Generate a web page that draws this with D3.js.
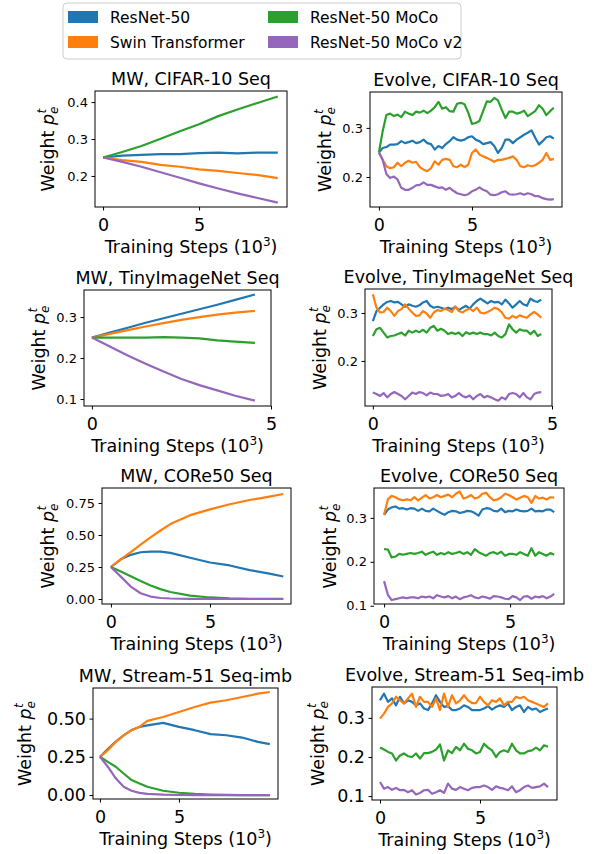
<!DOCTYPE html>
<html>
<head>
<meta charset="utf-8">
<script src="https://cdn.jsdelivr.net/npm/d3@7"></script>
<style>
body { margin: 0; background: #fff; }
svg { display: block; font-family: "DejaVu Sans", sans-serif; }
</style>
</head>
<body>
<svg id="canvas" width="604" height="854"></svg>
<script>
let seriesNames = ['ResNet-50', 'Swin Transformer', 'ResNet-50 MoCo', 'ResNet-50 MoCo v2']
let colors = ['#1f77b4', '#ff7f0e', '#2ca02c', '#9467bd']

// MW, CIFAR-10 Seq
let mwCifarX = [0, 1, 2, 3, 4, 5, 6, 7, 8, 9.1]
let mwCifarBlue = [0.25, 0.255, 0.257, 0.259, 0.259, 0.262, 0.263, 0.261, 0.263, 0.263]
let mwCifarOrange = [0.25, 0.243, 0.238, 0.230, 0.225, 0.218, 0.214, 0.208, 0.203, 0.194]
let mwCifarGreen = [0.25, 0.265, 0.281, 0.301, 0.321, 0.340, 0.362, 0.380, 0.397, 0.415]
let mwCifarPurple = [0.25, 0.238, 0.225, 0.210, 0.195, 0.180, 0.166, 0.153, 0.141, 0.128]

// Evolve, CIFAR-10 Seq (one value every 0.2k steps)
let evCifarStep = 0.2
let evCifarBlue = [0.25, 0.259, 0.261, 0.266, 0.266, 0.267, 0.273, 0.269, 0.271, 0.274,
  0.269, 0.271, 0.276, 0.269, 0.267, 0.256, 0.263, 0.259, 0.267, 0.273,
  0.281, 0.276, 0.274, 0.276, 0.281, 0.283, 0.276, 0.273, 0.267, 0.269,
  0.271, 0.263, 0.249, 0.259, 0.276, 0.276, 0.269, 0.276, 0.281, 0.286,
  0.290, 0.295, 0.280, 0.266, 0.273, 0.281, 0.283, 0.278]
let evCifarOrange = [0.25, 0.235, 0.222, 0.218, 0.220, 0.229, 0.222, 0.229, 0.233, 0.229,
  0.231, 0.220, 0.215, 0.212, 0.218, 0.232, 0.225, 0.235, 0.237, 0.235,
  0.222, 0.220, 0.225, 0.220, 0.225, 0.249, 0.256, 0.246, 0.242, 0.239,
  0.235, 0.231, 0.235, 0.235, 0.237, 0.239, 0.242, 0.235, 0.222, 0.220,
  0.224, 0.222, 0.224, 0.229, 0.235, 0.249, 0.235, 0.237]
let evCifarGreen = [0.25, 0.293, 0.326, 0.329, 0.324, 0.327, 0.322, 0.333, 0.329, 0.326,
  0.333, 0.331, 0.335, 0.330, 0.335, 0.342, 0.353, 0.339, 0.342, 0.334,
  0.333, 0.349, 0.351, 0.348, 0.331, 0.308, 0.310, 0.314, 0.334, 0.354,
  0.353, 0.361, 0.356, 0.337, 0.320, 0.333, 0.333, 0.329, 0.331, 0.335,
  0.324, 0.329, 0.334, 0.346, 0.339, 0.326, 0.334, 0.341]
let evCifarPurple = [0.25, 0.235, 0.206, 0.198, 0.201, 0.195, 0.178, 0.174, 0.174, 0.178,
  0.183, 0.184, 0.189, 0.184, 0.184, 0.181, 0.178, 0.179, 0.174, 0.178,
  0.172, 0.167, 0.165, 0.163, 0.165, 0.171, 0.174, 0.179, 0.174, 0.171,
  0.164, 0.163, 0.165, 0.169, 0.171, 0.165, 0.164, 0.165, 0.167, 0.164,
  0.167, 0.165, 0.161, 0.161, 0.157, 0.155, 0.154, 0.155]

// MW, TinyImageNet Seq
let mwTinyX = [0, 0.5, 1, 1.5, 2, 2.5, 3, 3.5, 4, 4.55]
let mwTinyBlue = [0.25, 0.262, 0.274, 0.286, 0.297, 0.308, 0.319, 0.330, 0.342, 0.355]
let mwTinyOrange = [0.25, 0.259, 0.268, 0.277, 0.285, 0.293, 0.300, 0.306, 0.311, 0.315]
let mwTinyGreen = [0.25, 0.250, 0.250, 0.250, 0.251, 0.250, 0.248, 0.243, 0.240, 0.237]
let mwTinyPurple = [0.25, 0.228, 0.206, 0.186, 0.167, 0.149, 0.134, 0.121, 0.108, 0.096]

// Evolve, TinyImageNet Seq (every 0.1k steps)
let evTinyStep = 0.1
let evTinyBlue = [0.283, 0.304, 0.311, 0.318, 0.323, 0.325, 0.322, 0.323, 0.318, 0.313,
  0.318, 0.315, 0.313, 0.316, 0.322, 0.325, 0.315, 0.311, 0.313, 0.311,
  0.308, 0.311, 0.308, 0.313, 0.306, 0.311, 0.315, 0.309, 0.318, 0.325,
  0.330, 0.325, 0.320, 0.325, 0.322, 0.323, 0.318, 0.328, 0.320, 0.311,
  0.318, 0.325, 0.318, 0.315, 0.330, 0.325, 0.323, 0.328]
let evTinyOrange = [0.339, 0.311, 0.301, 0.302, 0.311, 0.304, 0.294, 0.304, 0.308, 0.318,
  0.309, 0.301, 0.294, 0.295, 0.304, 0.299, 0.290, 0.301, 0.306, 0.304,
  0.309, 0.306, 0.302, 0.313, 0.304, 0.301, 0.306, 0.309, 0.304, 0.311,
  0.301, 0.299, 0.302, 0.306, 0.311, 0.308, 0.301, 0.290, 0.288, 0.294,
  0.290, 0.295, 0.292, 0.290, 0.297, 0.302, 0.297, 0.290]
let evTinyGreen = [0.252, 0.266, 0.269, 0.259, 0.249, 0.252, 0.253, 0.256, 0.259, 0.253,
  0.263, 0.259, 0.263, 0.260, 0.265, 0.259, 0.269, 0.273, 0.263, 0.267,
  0.263, 0.256, 0.259, 0.256, 0.259, 0.252, 0.260, 0.256, 0.259, 0.256,
  0.259, 0.256, 0.256, 0.253, 0.259, 0.252, 0.249, 0.256, 0.276, 0.266,
  0.259, 0.266, 0.263, 0.263, 0.256, 0.263, 0.252, 0.256]
let evTinyPurple = [0.134, 0.131, 0.127, 0.133, 0.124, 0.131, 0.135, 0.131, 0.127, 0.120,
  0.127, 0.134, 0.131, 0.135, 0.133, 0.128, 0.134, 0.131, 0.131, 0.127,
  0.128, 0.131, 0.124, 0.127, 0.133, 0.127, 0.124, 0.128, 0.120, 0.127,
  0.131, 0.124, 0.127, 0.124, 0.120, 0.117, 0.124, 0.120, 0.131, 0.133,
  0.131, 0.124, 0.133, 0.124, 0.120, 0.131, 0.134, 0.135]

// MW, CORe50 Seq
let mwCoreX = [0, 0.5, 1, 1.5, 2, 2.5, 3, 4, 5, 6, 7, 8, 8.7]
let mwCoreBlue = [0.25, 0.31, 0.345, 0.365, 0.37, 0.37, 0.36, 0.322, 0.285, 0.262, 0.226, 0.198, 0.176]
let mwCoreOrange = [0.25, 0.31, 0.366, 0.425, 0.482, 0.535, 0.585, 0.655, 0.70, 0.74, 0.773, 0.80, 0.82]
let mwCoreGreen = [0.25, 0.215, 0.178, 0.14, 0.105, 0.077, 0.055, 0.027, 0.012, 0.005, 0.002, 0.001, 0.001]
let mwCorePurple = [0.25, 0.175, 0.097, 0.045, 0.019, 0.008, 0.004, 0.001, 0, 0, 0, 0, 0]

// Evolve, CORe50 Seq (every 0.15k steps)
let evCoreStep = 0.15
let evCoreBlue = [0.307, 0.319, 0.324, 0.326, 0.321, 0.322, 0.319, 0.322, 0.321, 0.316,
  0.321, 0.316, 0.315, 0.321, 0.316, 0.311, 0.307, 0.313, 0.316, 0.315,
  0.311, 0.313, 0.316, 0.315, 0.311, 0.305, 0.319, 0.322, 0.321, 0.316,
  0.315, 0.321, 0.313, 0.316, 0.315, 0.319, 0.316, 0.315, 0.316, 0.321,
  0.315, 0.316, 0.315, 0.319, 0.319, 0.313]
let evCoreOrange = [0.307, 0.342, 0.350, 0.347, 0.342, 0.340, 0.342, 0.340, 0.347, 0.340,
  0.346, 0.352, 0.344, 0.347, 0.352, 0.347, 0.350, 0.353, 0.347, 0.355,
  0.360, 0.344, 0.347, 0.352, 0.344, 0.347, 0.355, 0.357, 0.347, 0.340,
  0.342, 0.347, 0.355, 0.352, 0.347, 0.342, 0.346, 0.350, 0.347, 0.334,
  0.350, 0.344, 0.346, 0.342, 0.347, 0.346]
let evCoreGreen = [0.229, 0.228, 0.210, 0.212, 0.218, 0.216, 0.218, 0.220, 0.218, 0.220,
  0.223, 0.216, 0.220, 0.223, 0.216, 0.220, 0.217, 0.222, 0.218, 0.220,
  0.223, 0.218, 0.222, 0.216, 0.229, 0.222, 0.218, 0.214, 0.220, 0.222,
  0.218, 0.223, 0.214, 0.218, 0.218, 0.216, 0.222, 0.218, 0.214, 0.231,
  0.214, 0.222, 0.218, 0.214, 0.220, 0.216]
let evCorePurple = [0.156, 0.125, 0.113, 0.115, 0.117, 0.119, 0.117, 0.119, 0.119, 0.117,
  0.121, 0.119, 0.121, 0.117, 0.124, 0.121, 0.119, 0.122, 0.117, 0.121,
  0.115, 0.119, 0.121, 0.124, 0.119, 0.117, 0.121, 0.119, 0.116, 0.122,
  0.121, 0.119, 0.116, 0.115, 0.122, 0.119, 0.113, 0.121, 0.122, 0.116,
  0.121, 0.119, 0.122, 0.117, 0.121, 0.127]

// MW, Stream-51 Seq-imb
let mwStreamX = [0, 0.5, 1, 1.5, 2, 2.5, 3, 4, 5, 6, 7, 8, 9, 10, 10.75]
let mwStreamBlue = [0.25, 0.30, 0.35, 0.39, 0.425, 0.445, 0.456, 0.472, 0.446, 0.424, 0.398, 0.391, 0.376, 0.348, 0.333]
let mwStreamOrange = [0.25, 0.293, 0.348, 0.39, 0.424, 0.446, 0.485, 0.51, 0.543, 0.576, 0.604, 0.62, 0.641, 0.663, 0.674]
let mwStreamGreen = [0.25, 0.217, 0.185, 0.141, 0.098, 0.076, 0.054, 0.028, 0.015, 0.007, 0.003, 0.001, 0, 0, 0]
let mwStreamPurple = [0.25, 0.185, 0.109, 0.054, 0.028, 0.014, 0.007, 0.002, 0, 0, 0, 0, 0, 0, 0]

// Evolve, Stream-51 Seq-imb (every 0.2k steps)
let evStreamStep = 0.2
let evStreamBlue = [0.345, 0.362, 0.341, 0.350, 0.332, 0.354, 0.337, 0.345, 0.341, 0.332,
  0.337, 0.324, 0.320, 0.337, 0.358, 0.341, 0.328, 0.330, 0.320, 0.320,
  0.324, 0.332, 0.328, 0.320, 0.320, 0.320, 0.324, 0.330, 0.321, 0.328,
  0.332, 0.328, 0.337, 0.320, 0.328, 0.332, 0.315, 0.328, 0.321, 0.324,
  0.315, 0.320, 0.324]
let evStreamOrange = [0.298, 0.311, 0.328, 0.337, 0.354, 0.345, 0.337, 0.350, 0.362, 0.328,
  0.354, 0.341, 0.341, 0.328, 0.350, 0.320, 0.362, 0.328, 0.358, 0.337,
  0.345, 0.358, 0.345, 0.338, 0.338, 0.354, 0.341, 0.332, 0.345, 0.341,
  0.350, 0.332, 0.341, 0.341, 0.354, 0.350, 0.354, 0.345, 0.341, 0.337,
  0.332, 0.328, 0.337]
let evStreamGreen = [0.224, 0.219, 0.213, 0.209, 0.191, 0.204, 0.209, 0.202, 0.200, 0.209,
  0.196, 0.210, 0.210, 0.213, 0.219, 0.232, 0.191, 0.217, 0.210, 0.226,
  0.217, 0.234, 0.221, 0.217, 0.209, 0.213, 0.234, 0.224, 0.217, 0.200,
  0.213, 0.217, 0.213, 0.234, 0.217, 0.209, 0.209, 0.215, 0.217, 0.224,
  0.217, 0.230, 0.226]
let evStreamPurple = [0.136, 0.119, 0.123, 0.116, 0.121, 0.115, 0.116, 0.110, 0.115, 0.104,
  0.108, 0.115, 0.116, 0.106, 0.110, 0.115, 0.108, 0.132, 0.119, 0.116,
  0.123, 0.119, 0.115, 0.121, 0.123, 0.123, 0.127, 0.123, 0.116, 0.125,
  0.121, 0.119, 0.115, 0.125, 0.110, 0.115, 0.123, 0.127, 0.121, 0.123,
  0.125, 0.132, 0.123]

let stepsOf = (values, step) => values.map((v, i) => +(i * step).toFixed(3))

let panels = [
  { title: 'MW, CIFAR-10 Seq', box: [95, 91, 287, 207], xDom: [-0.42, 9.58], yDom: [0.116, 0.43],
    yTicks: [0.2, 0.3, 0.4], yFmt: '.1f', yFont: 13, labelX: 48,
    x: mwCifarX, series: [mwCifarBlue, mwCifarOrange, mwCifarGreen, mwCifarPurple] },
  { title: 'Evolve, CIFAR-10 Seq', box: [370, 92, 562, 207], xDom: [-0.48, 9.84], yDom: [0.139, 0.373],
    yTicks: [0.2, 0.3], yFmt: '.1f', yFont: 13, labelX: 325,
    x: stepsOf(evCifarBlue, evCifarStep), series: [evCifarBlue, evCifarOrange, evCifarGreen, evCifarPurple] },
  { title: 'MW, TinyImageNet Seq', box: [84, 290, 271, 406], xDom: [-0.22, 5.0], yDom: [0.083, 0.366],
    yTicks: [0.1, 0.2, 0.3], yFmt: '.1f', yFont: 13, labelX: 39,
    x: mwTinyX, series: [mwTinyBlue, mwTinyOrange, mwTinyGreen, mwTinyPurple] },
  { title: 'Evolve, TinyImageNet Seq', box: [365, 289, 552, 406], xDom: [-0.22, 5.0], yDom: [0.106, 0.35],
    yTicks: [0.2, 0.3], yFmt: '.1f', yFont: 13, labelX: 320,
    x: stepsOf(evTinyBlue, evTinyStep), series: [evTinyBlue, evTinyOrange, evTinyGreen, evTinyPurple] },
  { title: 'MW, CORe50 Seq', box: [102, 488, 291, 604], xDom: [-0.45, 9.09], yDom: [-0.039, 0.867],
    yTicks: [0, 0.25, 0.5, 0.75], yFmt: '.2f', yFont: 13, labelX: 48,
    x: mwCoreX, series: [mwCoreBlue, mwCoreOrange, mwCoreGreen, mwCorePurple] },
  { title: 'Evolve, CORe50 Seq', box: [374, 488, 564, 604], xDom: [-0.40, 7.14], yDom: [0.104, 0.368],
    yTicks: [0.1, 0.2, 0.3], yFmt: '.1f', yFont: 13, labelX: 330,
    x: stepsOf(evCoreBlue, evCoreStep), series: [evCoreBlue, evCoreOrange, evCoreGreen, evCorePurple] },
  { title: 'MW, Stream-51 Seq-imb', box: [93, 688, 278, 799], xDom: [-0.44, 11.27], yDom: [-0.026, 0.70],
    yTicks: [0, 0.25, 0.5], yFmt: '.2f', yFont: 17.5, labelX: 25,
    x: mwStreamX, series: [mwStreamBlue, mwStreamOrange, mwStreamGreen, mwStreamPurple] },
  { title: 'Evolve, Stream-51 Seq-imb', box: [372, 687, 557, 800], xDom: [-0.40, 8.85], yDom: [0.090, 0.379],
    yTicks: [0.1, 0.2, 0.3], yFmt: '.1f', yFont: 17.5, labelX: 318,
    x: stepsOf(evStreamBlue, evStreamStep), series: [evStreamBlue, evStreamOrange, evStreamGreen, evStreamPurple] }
]

let canvas = d3.select('#canvas')

let drawPanel = (p) => {
  let [x0, y0, x1, y1] = p.box
  let xScale = d3.scaleLinear().domain(p.xDom).range([x0, x1])
  let yScale = d3.scaleLinear().domain(p.yDom).range([y1, y0])
  let g = canvas.append('g')

  let line = d3.line()
    .x(d => xScale(d[0]))
    .y(d => yScale(d[1]))

  p.series.forEach((ys, i) => {
    g.append('path')
      .datum(ys.map((v, j) => [p.x[j], v]))
      .attr('d', line)
      .attr('fill', 'none')
      .attr('stroke', colors[i])
      .attr('stroke-width', 2.2)
      .attr('stroke-linejoin', 'round')
  })

  // axes
  let xAxis = g.append('g')
    .attr('transform', `translate(0,${y1})`)
    .call(d3.axisBottom(xScale).tickValues([0, 5]).tickFormat(d3.format('d')).tickSize(3.5).tickPadding(8.5))
  xAxis.selectAll('text').attr('font-size', 17.5).attr('fill', '#000').attr('font-family', 'DejaVu Sans')

  let yAxis = g.append('g')
    .attr('transform', `translate(${x0},0)`)
    .call(d3.axisLeft(yScale).tickValues(p.yTicks).tickFormat(d3.format(p.yFmt)).tickSize(3.5).tickPadding(3.5))
  yAxis.selectAll('text').attr('font-size', p.yFont).attr('fill', '#000').attr('font-family', 'DejaVu Sans')

  g.selectAll('.domain').remove()
  g.selectAll('.tick line').attr('stroke', '#000').attr('stroke-width', 1)

  g.append('rect')
    .attr('x', x0).attr('y', y0)
    .attr('width', x1 - x0).attr('height', y1 - y0)
    .attr('fill', 'none').attr('stroke', '#000').attr('stroke-width', 1)

  g.append('text')
    .attr('x', (x0 + x1) / 2).attr('y', y0 - 6)
    .attr('text-anchor', 'middle').attr('font-size', 17.5)
    .text(p.title)

  let xl = g.append('text')
    .attr('x', (x0 + x1) / 2).attr('y', y1 + 46)
    .attr('text-anchor', 'middle').attr('font-size', 17.5)
  xl.append('tspan').text('Training Steps (10')
  xl.append('tspan').attr('font-size', 12).attr('dy', -7).text('3')
  xl.append('tspan').attr('dy', 7).text(')')

  let yl = g.append('text')
    .attr('transform', `translate(${p.labelX},${(y0 + y1) / 2}) rotate(-90)`)
    .attr('text-anchor', 'middle').attr('font-size', 17.5).attr('dy', '0.35em')
  yl.append('tspan').text('Weight ')
  yl.append('tspan').attr('font-style', 'italic').text('p')
  yl.append('tspan').attr('font-style', 'italic').attr('font-size', 12).attr('dy', 4).text('e')
  yl.append('tspan').attr('font-style', 'italic').attr('font-size', 12).attr('dx', -7).attr('dy', -12).text('t')
}

panels.forEach(drawPanel)

// legend
let legend = canvas.append('g')
legend.append('rect')
  .attr('x', 63).attr('y', 3).attr('width', 398).attr('height', 56).attr('rx', 4)
  .attr('fill', '#fff').attr('stroke', '#ccc').attr('stroke-width', 1)

seriesNames.forEach((name, i) => {
  let col = i < 2 ? 0 : 1
  let row = i % 2
  let px = col === 0 ? 68 : 268
  let py = row === 0 ? 11 : 36
  legend.append('rect')
    .attr('x', px).attr('y', py).attr('width', 30).attr('height', 12)
    .attr('fill', colors[i])
  legend.append('text')
    .attr('x', px + 42).attr('y', py + 12)
    .attr('font-size', 15.5)
    .text(name)
})
</script>
</body>
</html>
